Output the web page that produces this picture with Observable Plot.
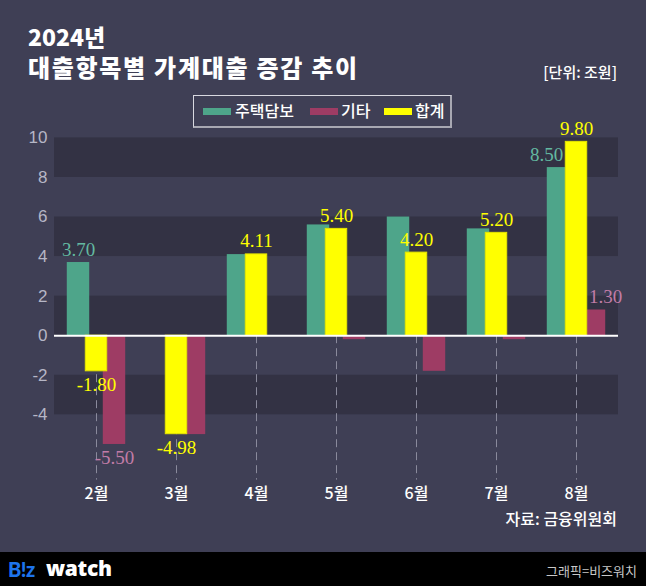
<!DOCTYPE html>
<html><head><meta charset="utf-8">
<script src="https://cdn.jsdelivr.net/npm/d3@7"></script>
<script src="https://cdn.jsdelivr.net/npm/@observablehq/plot@0.6"></script>
<style>
body{margin:0;background:#3f3f55;}
#page{position:relative;width:646px;height:586px;overflow:hidden;background:#3f3f55;font-family:"Noto Sans CJK KR","Noto Sans",sans-serif;}
#chart{position:absolute;left:0;top:0;}
.abs{position:absolute;white-space:nowrap;line-height:1;}
.title{color:#fff;font-weight:900;font-size:24px;left:28px;}
.sw{position:absolute;width:28px;height:7px;}
.lt{color:#fff;font-size:16px;font-weight:500;}
</style></head>
<body>
<div id="page">
  <div id="chart"></div>
  <div class="abs title" style="top:25px;font-size:23px;">2024년</div>
  <div class="abs title" style="top:55px;letter-spacing:1.7px;">대출항목별 가계대출 증감 추이</div>
  <div class="abs" style="right:29px;top:64px;color:#fff;font-size:15px;font-weight:500;">[단위: 조원]</div>
  <div class="abs" style="left:193px;top:95px;width:256px;height:30px;border:1px solid #d8d8e0;border-bottom:2px solid #a8a8b2;border-right:2px solid #a8a8b2;"></div>
  <div id="legend"></div>
  <div class="abs" style="right:29px;top:510px;color:#fff;font-size:16px;font-weight:500;">자료: 금융위원회</div>
  <div class="abs" style="left:0;top:552px;width:646px;height:34px;background:#000;"></div>
  <div class="abs" style="left:8px;top:559px;font-family:Lato,'Noto Sans',sans-serif;font-weight:900;font-size:20px;color:#1d74ec;letter-spacing:-0.5px;">B!z</div>
  <div class="abs" style="left:46px;top:558px;font-family:'Noto Sans','DejaVu Sans',sans-serif;font-weight:900;font-size:21px;color:#fff;letter-spacing:-0.3px;">watch</div>
  <div class="abs" style="right:9px;top:564px;font-size:13px;color:#c8c8c8;">그래픽=비즈워치</div>
</div>
<script>
const months = ["2월","3월","4월","5월","6월","7월","8월"];
const seriesNames = ["주택담보","기타","합계"];
const mortgage = [3.7, 0, 4.1, 5.6, 6.0, 5.4, 8.5];
const other = [-5.5, -5.0, 0, -0.2, -1.8, -0.2, 1.3];
const total = [-1.8, -4.98, 4.11, 5.4, 4.2, 5.2, 9.8];
const yTicks = [-4, -2, 0, 2, 4, 6, 8, 10];
const labeledMortgage = ["2월", "8월"];
const labeledOther = ["2월", "8월"];
const labeledTotal = months;

const colors = {"주택담보": "#4ea58a", "기타": "#9e3c64", "합계": "#ffff00"};
const labelColors = {"주택담보": "#63b9a1", "기타": "#c27ca7", "합계": "#ffff00"};

// legend
const legendPos = [[203, 235], [310, 341], [384, 415]];
const lg = document.getElementById("legend");
seriesNames.forEach((s, i) => {
  const sw = document.createElement("div");
  sw.className = "sw";
  sw.style.cssText = `left:${legendPos[i][0]}px;top:108px;background:${colors[s]};`;
  lg.appendChild(sw);
  const t = document.createElement("div");
  t.className = "abs lt";
  t.style.cssText = `left:${legendPos[i][1]}px;top:102px;`;
  t.textContent = s;
  lg.appendChild(t);
});

const rows = (arr) => months.map((m, i) => ({month: m, value: arr[i]}));
const gData = rows(mortgage), pData = rows(other), yData = rows(total);
const yMin = -7.3;
const bands = yTicks.filter(t => ((t - yTicks[0]) / 2) % 2 === 0).map(t => [t, t + 2]);

const W = 646, ML = 54, MR = 28;
const bw = (W - ML - MR) / months.length;
const barW = 23, off = 18;
const inset = (bw - barW) / 2;
const fmt = d => d.value.toFixed(2);
const serif = "'Liberation Serif','DejaVu Serif',serif";

const lab = (data, list, color, dx) => {
  const sel = data.filter(d => list.includes(d.month));
  const pos = sel.filter(d => d.value >= 0), neg = sel.filter(d => d.value < 0);
  return [
    Plot.text(pos, {x: "month", y: "value", text: fmt, dx: dx, dy: -7, lineAnchor: "bottom", fill: color, fontSize: 19, fontFamily: serif}),
    Plot.text(neg, {x: "month", y: "value", text: fmt, dx: dx, dy: 6, lineAnchor: "top", fill: color, fontSize: 19, fontFamily: serif})
  ];
};

const chart = Plot.plot({
  width: W,
  height: 552,
  marginLeft: ML,
  marginRight: MR,
  marginTop: 137.4,
  marginBottom: 552 - (137.4 + 17.3 * 19.78),
  style: {background: "transparent", fontFamily: "'Noto Sans CJK KR','Noto Sans',sans-serif", overflow: "visible"},
  x: {domain: months, padding: 0, label: null},
  y: {domain: [yMin, 10], label: null},
  marks: [
    Plot.rectY(bands, {y1: d => d[0], y2: d => d[1], fill: "#333244"}),
    Plot.ruleX(months, {x: d => d, y1: 0, y2: yMin, stroke: "#8a8a9c", strokeWidth: 1, strokeDasharray: "8,5"}),
    Plot.barY(gData, {x: "month", y: "value", fill: colors["주택담보"], dx: -off, insetLeft: inset, insetRight: inset}),
    Plot.barY(pData, {x: "month", y: "value", fill: colors["기타"], dx: off, insetLeft: inset, insetRight: inset}),
    Plot.barY(yData, {x: "month", y: "value", fill: colors["합계"], stroke: "#e6e600", strokeWidth: 1, dx: 0, insetLeft: inset + 0.5, insetRight: inset + 0.5}),
    Plot.ruleY([0], {stroke: "#ffffff", strokeWidth: 2}),
    ...lab(gData, labeledMortgage.filter(m => m !== "8월"), labelColors["주택담보"], -off),
    ...lab(gData, labeledMortgage.filter(m => m === "8월"), labelColors["주택담보"], -30),
    ...lab(pData, labeledOther.filter(m => m !== "8월"), labelColors["기타"], off),
    ...lab(pData, labeledOther.filter(m => m === "8월"), labelColors["기타"], 29),
    ...lab(yData, labeledTotal, labelColors["합계"], 0),
    Plot.axisY(yTicks, {tickSize: 0, tickPadding: 7, tickFormat: d => String(d), fontSize: 17, color: "#b6b6c6", fontFamily: "'Liberation Sans','Noto Sans',sans-serif"}),
    Plot.axisX({tickSize: 0, tickPadding: 8, fontSize: 16, color: "#ffffff", fontWeight: 500})
  ]
});
document.getElementById("chart").appendChild(chart);
</script>
</body></html>
